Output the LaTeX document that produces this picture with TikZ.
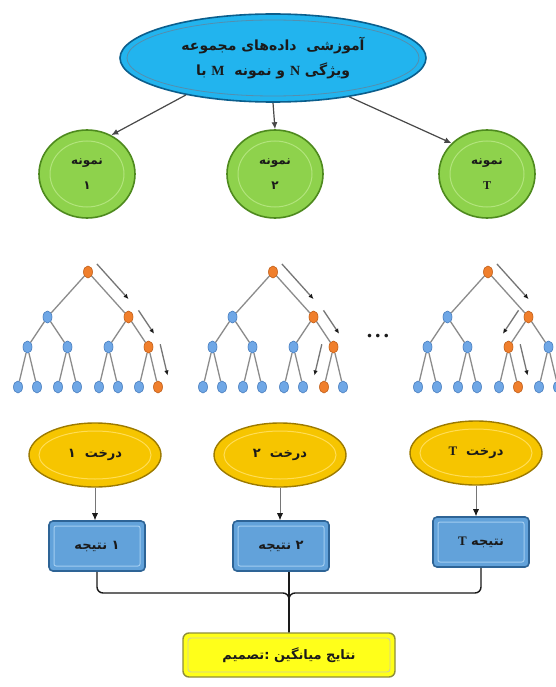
\documentclass[tikz,border=0pt]{standalone}
\usepackage{fontspec}
\usetikzlibrary{arrows.meta,positioning,calc,shapes.geometric}
\TeXXeTstate=1
\newfontfamily\fafont[Script=Arabic]{DejaVu Sans}
\newfontfamily\latfont{Liberation Serif}
\definecolor{ink}{HTML}{1A1A1A}
\definecolor{skyfill}{HTML}{22B4EE}
\definecolor{skyline}{HTML}{0B5E8C}
\definecolor{leaffill}{HTML}{8ED24C}
\definecolor{leafline}{HTML}{4E8A1E}
\definecolor{leafring}{HTML}{B2E47C}
\definecolor{goldfill}{HTML}{F6C500}
\definecolor{goldline}{HTML}{9C7A00}
\definecolor{goldring}{HTML}{FFDD55}
\definecolor{boxfill}{HTML}{62A2DA}
\definecolor{boxline}{HTML}{2E6496}
\definecolor{boxring}{HTML}{A2CDF0}
\definecolor{lemon}{HTML}{FFFF1A}
\definecolor{lemonline}{HTML}{8E8E3A}
\definecolor{treeblue}{HTML}{6FA7E6}
\definecolor{treeblueline}{HTML}{4A7FBF}
\definecolor{treeorange}{HTML}{F07F2C}
\definecolor{treeorangeline}{HTML}{C2601A}
\definecolor{treeedge}{HTML}{8C8C8C}
\tikzset{
  >=Latex,
  every node/.style={text=ink,align=center},
  dataset/.style={ellipse,draw=skyline,line width=1.6pt,fill=skyfill,minimum width=306pt,minimum height=88pt,inner sep=0pt,
    font=\fafont\bfseries\fontsize{14}{25}\selectfont,
    path picture={\draw[skyline!70,line width=0.8pt] (path picture bounding box.center) ellipse [x radius=146pt,y radius=38pt];}},
  sample/.style={ellipse,draw=leafline,line width=1.6pt,fill=leaffill,minimum width=96pt,minimum height=88pt,inner sep=0pt,
    font=\fafont\bfseries\fontsize{12}{25}\selectfont,
    path picture={\draw[leafring,line width=1pt] (path picture bounding box.center) ellipse [x radius=37pt,y radius=33pt];}},
  treeoval/.style={ellipse,draw=goldline,line width=1.4pt,fill=goldfill,minimum width=132pt,minimum height=64pt,inner sep=0pt,
    font=\fafont\bfseries\fontsize{13}{16}\selectfont,
    path picture={\draw[goldring,line width=1pt] (path picture bounding box.center) ellipse [x radius=56pt,y radius=24pt];}},
  vote/.style={rectangle,rounded corners=4pt,draw=boxline,line width=1.6pt,fill=boxfill,minimum width=96pt,minimum height=50pt,inner sep=0pt,
    font=\fafont\bfseries\fontsize{13}{16}\selectfont,
    path picture={\draw[boxring,line width=1pt,rounded corners=2pt] ([shift={(5pt,5pt)}]path picture bounding box.south west) rectangle ([shift={(-5pt,-5pt)}]path picture bounding box.north east);}},
  verdict/.style={rectangle,rounded corners=6pt,draw=lemonline,line width=1.4pt,fill=lemon,minimum width=212pt,minimum height=44pt,inner sep=0pt,
    font=\fafont\bfseries\fontsize{13}{16}\selectfont,
    path picture={\draw[lemonline!45,line width=0.8pt,rounded corners=3pt] ([shift={(5pt,5pt)}]path picture bounding box.south west) rectangle ([shift={(-5pt,-5pt)}]path picture bounding box.north east);}},
  knot/.style={ellipse,draw=treeblueline,fill=treeblue,line width=0.6pt,minimum width=9pt,minimum height=12pt,inner sep=0pt},
  hot/.style={draw=treeorangeline,fill=treeorange},
  walkarr/.style={-{Latex[length=5pt,width=4.5pt,color=ink]},line width=1.3pt,draw=ink!60},
  feed/.style={-{Latex[length=7pt,width=6pt]},line width=1.2pt,draw=ink!80},
  drop/.style={-{Latex[length=7pt,width=6pt,color=ink]},line width=0.7pt,draw=ink!60},
  link/.style={line width=1.4pt,draw=ink,rounded corners=6pt}
}
% arrow running beside a tree edge
\newcommand{\walk}[3]{\draw[walkarr] ($(#1)!12pt!#3:(#2)$) -- ($(#1)!0.78!(#2)!12pt!#3:(#2)$);}

\begin{document}
\begin{tikzpicture}[x=1pt,y=-1pt,
  level 1/.style={level distance=45pt,sibling distance=81pt},
  level 2/.style={level distance=30pt,sibling distance=40pt},
  level 3/.style={level distance=40pt,sibling distance=19pt},
  every child node/.style={knot},
  edge from parent/.style={draw=treeedge,line width=1.3pt}]
  \path[use as bounding box,fill=white] (0,0) rectangle (556,687);

  % data set and bootstrap samples
  \node[dataset] (data) at (273,58) {\beginR آموزشی\ \ داده‌های\ مجموعه\endR\\
    \beginR ویژگی\ \beginL{\latfont N}\endL\ و\ نمونه\ \ \beginL{\latfont M}\endL\ با\endR};
  \node[sample] (s1) at (87,174) {\beginR نمونه\endR\\\beginR ۱\endR};
  \node[sample] (s2) at (275,174) {\beginR نمونه\endR\\\beginR ۲\endR};
  \node[sample] (s3) at (487,174) {\beginR نمونه\endR\\{\latfont T}};
  \draw[feed] (data.203) -- (s1.58);
  \draw[feed] (data.south) -- (s2.north);
  \draw[feed] (data.333) -- (s3.139);

  % trees
  \node[knot,hot] (ta) at (88,272) {}
    child {node {} child {node {} child {node {}} child {node {}}} child {node {} child {node {}} child {node {}}}}
    child {node[hot] {} child {node {} child {node {}} child {node {}}} child {node[hot] {} child {node {}} child {node[hot] {}}}};
  \node[knot,hot] (tb) at (273,272) {}
    child {node {} child {node {} child {node {}} child {node {}}} child {node {} child {node {}} child {node {}}}}
    child {node[hot] {} child {node {} child {node {}} child {node {}}} child {node[hot] {} child {node[hot] {}} child {node {}}}};
  \node[knot,hot] (tc) at (488,272) {}
    child {node {} child {node {} child {node {}} child {node {}}} child {node {} child {node {}} child {node {}}}}
    child {node[hot] {} child {node[hot] {} child {node {}} child {node[hot] {}}} child {node {} child {node {}} child {node {}}}};
  \walk{ta}{ta-2}{90} \walk{ta-2}{ta-2-2}{90} \walk{ta-2-2}{ta-2-2-2}{90}
  \walk{tb}{tb-2}{90} \walk{tb-2}{tb-2-2}{90} \walk{tb-2-2}{tb-2-2-1}{-90}
  \walk{tc}{tc-2}{90} \walk{tc-2}{tc-2-1}{-90} \walk{tc-2-1}{tc-2-1-2}{90}
  \node[font=\latfont\bfseries\fontsize{22}{22}\selectfont] (gap) at (378,336) {.\hspace{3pt}.\hspace{3pt}.};

  % tree outputs
  \node[treeoval] (y1) at (95,455) {\beginR درخت\ \ ۱\endR};
  \node[treeoval] (y2) at (280,455) {\beginR درخت\ \ ۲\endR};
  \node[treeoval] (y3) at (476,453) {\beginR درخت\ \ \beginL{\latfont T}\endL\endR};
  \node[vote] (r1) at (97,546) {\beginR ۱\ نتیجه\endR};
  \node[vote] (r2) at (281,546) {\beginR ۲\ نتیجه\endR};
  \node[vote] (r3) at (481,542) {\beginR نتیجه\ \beginL{\latfont T}\endL\endR};
  \draw[drop] (y1.south) -- (y1.south |- r1.north);
  \draw[drop] (y2.south) -- (y2.south |- r2.north);
  \draw[drop] (y3.south) -- (y3.south |- r3.north);

  % averaging
  \node[verdict] (dec) at (289,655) {\beginR نتایج\ میانگین\ :تصمیم\endR};
  \coordinate (hub) at (289,593);
  \draw[link] (r1.south) |- (hub) -- (dec.north);
  \draw[link] (r3.south) |- (hub) -- (dec.north);
  \draw[link] (dec.north |- r2.south) -- (dec.north);
\end{tikzpicture}
\end{document}
